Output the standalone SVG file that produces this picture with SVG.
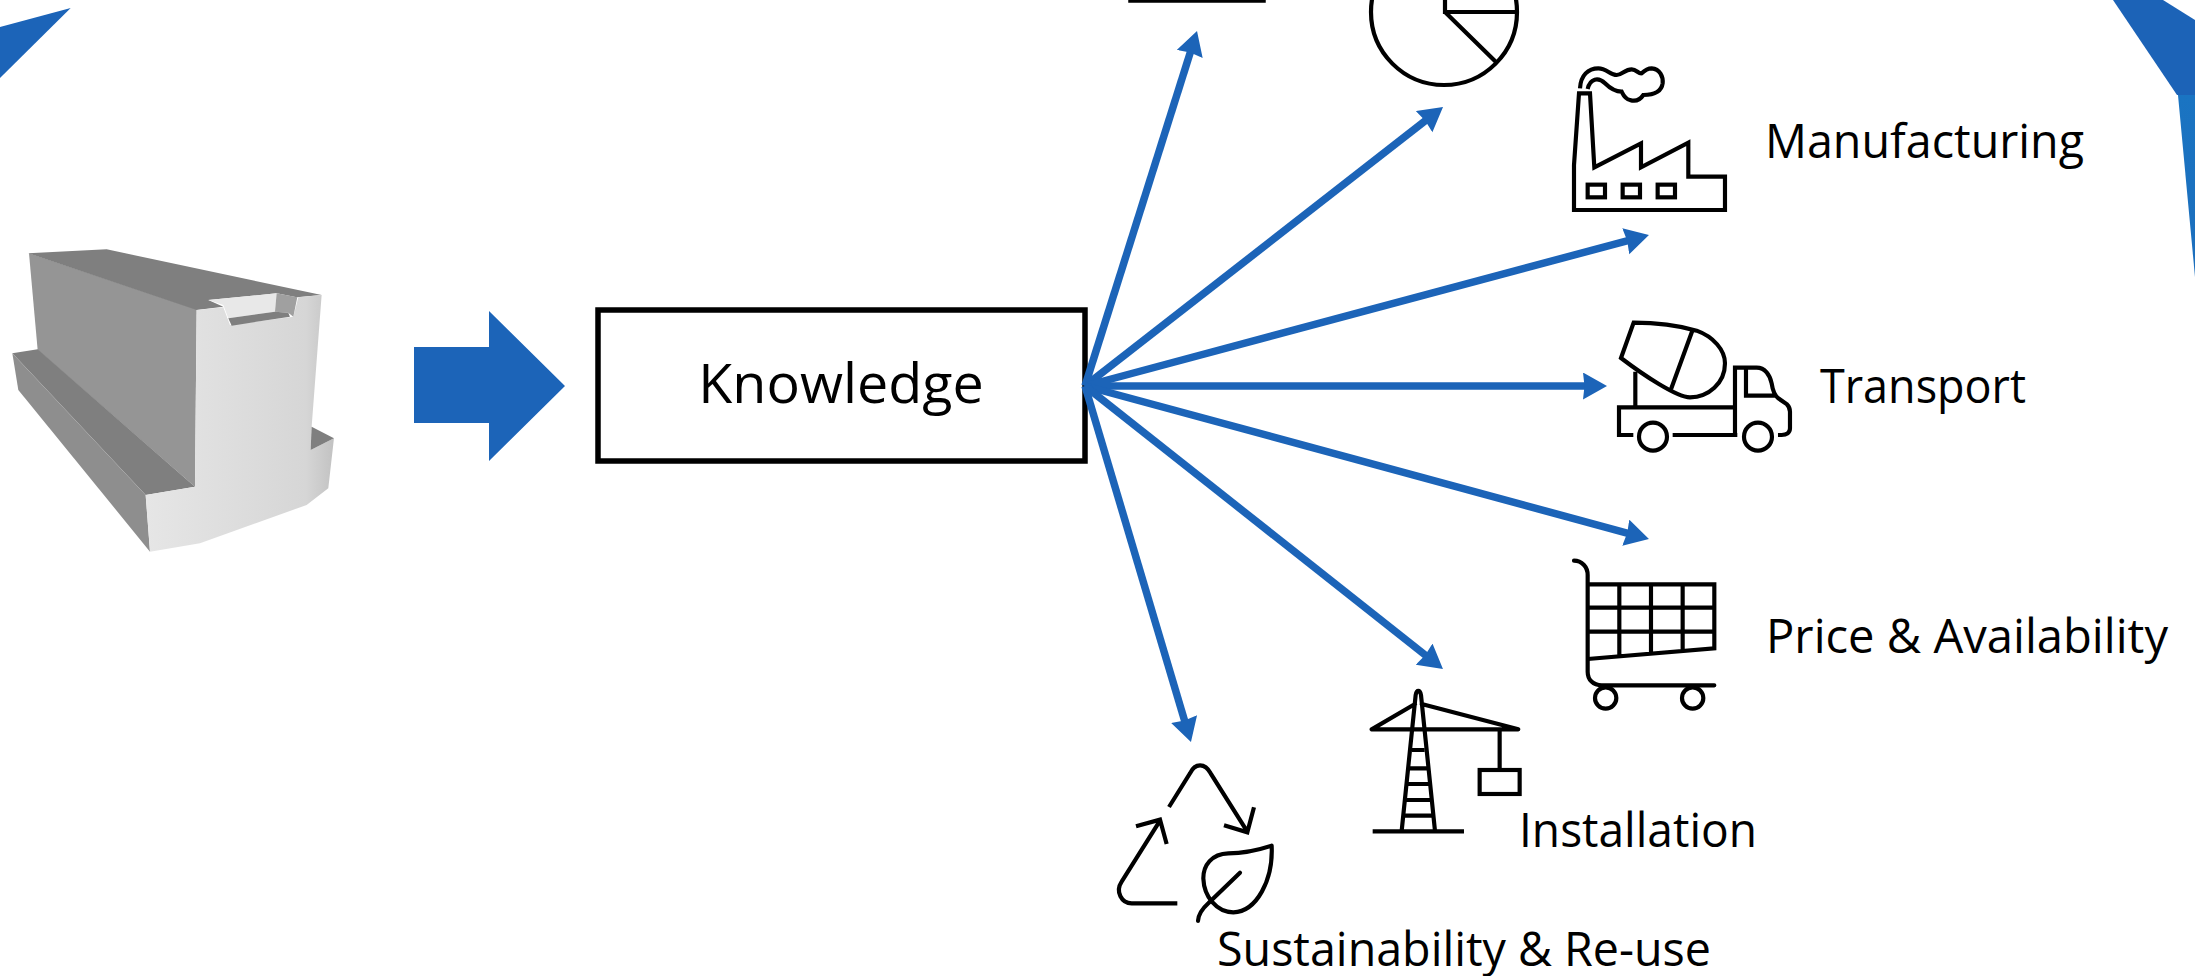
<svg xmlns="http://www.w3.org/2000/svg" width="2195" height="976" viewBox="0 0 2195 976">
<defs>
<style>
.lbl{font-family:"Open Sans","Noto Sans","Liberation Sans",sans-serif;fill:#000;font-size:47px}
.ic{fill:none;stroke:#000;stroke-width:12.5;stroke-linejoin:miter}
.rd{stroke-linecap:round;stroke-linejoin:round}
.cn{stroke:#1c64b8;stroke-width:7.5;fill:none;marker-end:url(#ah)}
</style>
<marker id="ah" markerUnits="userSpaceOnUse" markerWidth="28" markerHeight="28" refX="8" refY="13.5" orient="auto"><path d="M0 0L24 13.5L0 27L1.5 13.5Z" fill="#1c64b8"/></marker>
<linearGradient id="fr" x1="0" y1="0" x2="1" y2="0"><stop offset="0" stop-color="#e6e6e6"/><stop offset=".85" stop-color="#d6d6d6"/><stop offset="1" stop-color="#c2c2c2"/></linearGradient>
<linearGradient id="rb" x1="0" y1="0" x2="0" y2="1"><stop offset="0" stop-color="#1a74c2"/><stop offset="1" stop-color="#1c6ebc"/></linearGradient>
<filter id="sf" x="-5%" y="-5%" width="110%" height="110%"><feGaussianBlur stdDeviation="1"/></filter>
</defs>
<g id="corner-shapes">
<polygon points="70.7,8 0,27 0,78" fill="#1c64b8"/>
<polygon points="2113,0 2163,0 2195,20 2195,95 2177,95" fill="#1c63b7"/>
<polygon points="2178,95 2195,95 2195,277" fill="url(#rb)"/>
</g>
<g id="block" transform="translate(0,220) scale(0.3333)" filter="url(#sf)">
<polygon points="87,100 590,268 585,800 113,390" fill="#959595"/>
<polygon points="85,100 320,88 965,225 890,232 830,220 625,240 670,260 590,270" fill="#7f7f7f"/>
<polygon points="37,400 113,388 585,800 437,825" fill="#7f7f7f"/>
<polygon points="37,400 437,825 450,995 55,510" fill="#8e8e8e"/>
<polygon points="590,270 670,262 690,315 880,290 895,232 965,225 935,620 932,690 1002,655 985,805 920,855 600,970 450,995 437,825 585,800" fill="url(#fr)"/>
<polygon points="935,620 1002,655 932,690" fill="#7f7f7f"/>
<polygon points="625,240 830,220 825,275 685,295 670,255" fill="#e8e8e8"/>
<polygon points="830,220 892,232 880,290 865,278 825,275" fill="#a0a0a0"/>
<polygon points="685,295 825,275 865,278 870,290 695,317" fill="#7f7f7f"/>
</g>
<g id="big-arrow"><polygon points="414,347 489,347 489,311 565,386 489,461 489,423 414,423" fill="#1c64b8"/></g>
<g id="knowledge">
<rect x="598" y="310" width="487" height="151" fill="#fff" stroke="#000" stroke-width="5.5"/>
<text x="841" y="403" text-anchor="middle" class="lbl" style="font-size:55.6px">Knowledge</text>
</g>
<g id="connectors">
<line class="cn" x1="1085" y1="386" x2="1192.2" y2="46.3"/>
<line class="cn" x1="1085" y1="386" x2="1430.4" y2="116.8"/>
<line class="cn" x1="1085" y1="386" x2="1633.5" y2="239.1"/>
<line class="cn" x1="1085" y1="386" x2="1591" y2="386"/>
<line class="cn" x1="1085" y1="386" x2="1633.5" y2="534.8"/>
<line class="cn" x1="1085" y1="386" x2="1430.4" y2="659.1"/>
<line class="cn" x1="1085" y1="386" x2="1186.4" y2="726.7"/>
</g>
<g id="cropped-box"><rect x="1130" y="-10" width="134" height="11" fill="none" stroke="#000" stroke-width="3.5"/></g>
<g id="pie" fill="none" stroke="#000" stroke-width="4.2">
<circle cx="1444" cy="12" r="73"/>
<path d="M1445 -5V12H1516M1445 12L1496 62"/>
</g>
<g id="manufacturing">
<g transform="translate(1560,50) scale(0.3333)" class="ic">
<path d="M42 480V345L57 130H90L103 352L243 280V352L385 278V380H495V480Z"/>
<rect x="83" y="404" width="52" height="38"/><rect x="188" y="404" width="52" height="38"/><rect x="293" y="404" width="52" height="38"/>
<path d="M60 115C62 75 85 55 115 55C140 55 150 75 170 75C185 75 195 58 215 58C230 58 235 72 245 70C255 60 265 55 275 55C300 57 310 80 308 100C305 122 285 135 250 135C240 150 225 155 210 150C195 147 190 135 185 125C165 125 150 115 135 100C115 80 90 85 83 117"/>
</g>
<text x="1765" y="158" class="lbl" textLength="319" lengthAdjust="spacingAndGlyphs">Manufacturing</text>
</g>
<g id="transport">
<g transform="translate(1600,300) scale(0.3333)" class="ic">
<path d="M63 174L101 68C170 68 240 78 290 92C340 110 375 150 375 190C375 250 325 292 270 292C230 292 130 225 63 174Z"/>
<path d="M277 92L213 268M106 215V320"/>
<path d="M100 405H57V322H405V405M218 405H412M405 405V203H470C495 203 510 225 515 250C518 270 522 285 535 295L560 312C568 320 570 325 570 335V385C570 398 560 405 545 405H534M438 203V287H527"/>
<circle cx="159" cy="410" r="42"/><circle cx="474" cy="410" r="42"/>
</g>
<text x="1820" y="403" class="lbl" textLength="206" lengthAdjust="spacingAndGlyphs">Transport</text>
</g>
<g id="price">
<g transform="translate(1560,540) scale(0.3333)" class="ic">
<path class="rd" d="M42 62C65 62 83 80 83 105V395C83 420 100 436 125 436H463"/>
<path d="M83 133H463V325L83 357M83 203H463M83 275H463M178 133V345M273 133V337M368 133V328"/>
<circle cx="137" cy="474" r="32"/><circle cx="398" cy="474" r="32"/>
</g>
<text x="1766" y="653" class="lbl" textLength="402" lengthAdjust="spacingAndGlyphs">Price &amp; Availability</text>
</g>
<g id="installation">
<g transform="translate(1350,670) scale(0.3333)" class="ic">
<path class="rd" d="M65 178H505L215 102M65 178L195 102M155 483L197 75C200 58 210 58 213 75L255 483"/>
<path d="M68 484H342M186 240H224M180 295H231M173 342H237M165 390H245M160 437H250M449 180V300"/>
<rect x="389" y="300" width="120" height="72"/>
</g>
<text x="1519" y="847" class="lbl" textLength="238" lengthAdjust="spacingAndGlyphs">Installation</text>
</g>
<g id="sustainability">
<g transform="translate(1100,750) scale(0.3333)" class="ic">
<path d="M207 171L270 70C285 38 315 38 332 70L442 245M372 226L442 247L462 172M108 229L180 209L200 282M180 212L65 395C45 425 65 460 95 460H232"/>
<path stroke-linejoin="round" d="M515 287C460 305 420 310 385 310C335 312 310 345 310 385C312 440 350 487 400 487C470 485 520 390 515 287Z"/>
<path class="rd" d="M420 368L325 460C305 478 295 495 294 513"/>
</g>
<text x="1217" y="966" class="lbl" textLength="494" lengthAdjust="spacingAndGlyphs">Sustainability &amp; Re-use</text>
</g>
</svg>
